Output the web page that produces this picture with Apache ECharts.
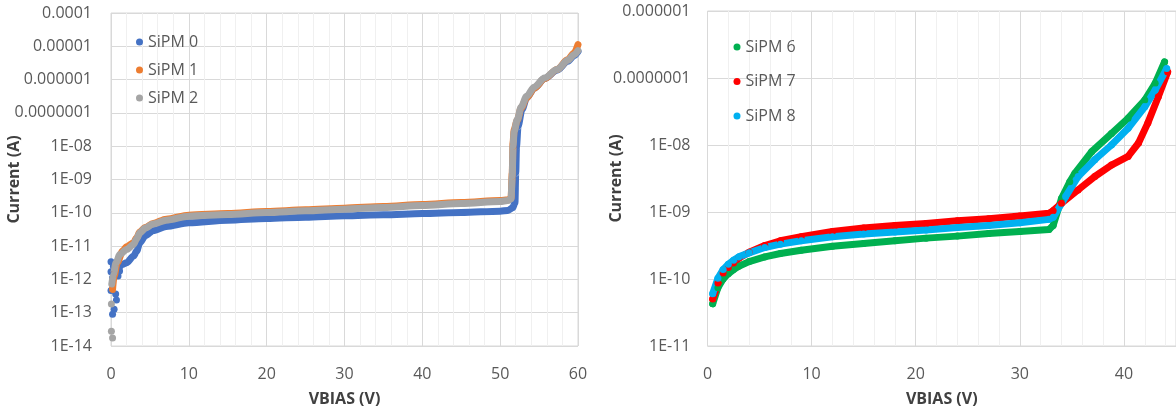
<!DOCTYPE html>
<html>
<head>
<meta charset="utf-8">
<script src="https://cdn.jsdelivr.net/npm/echarts@6/dist/echarts.min.js"></script>
<style>html,body{margin:0;padding:0;background:#fff}#c{width:1176px;height:412px}</style>
</head>
<body>
<div id="c"></div>
<script>
// ---------- tick labels ----------
const leftYLabels = ['1E-14','1E-13','1E-12','1E-11','1E-10','1E-09','1E-08','0.0000001','0.000001','0.00001','0.0001'];
const rightYLabels = ['1E-11','1E-10','1E-09','1E-08','0.0000001','0.000001'];
const leftNames = ['SiPM 0','SiPM 1','SiPM 2'];
const rightNames = ['SiPM 6','SiPM 7','SiPM 8'];

// ---------- left chart data: VBIAS (V) and log10(current in A) ----------
const sipm0V = [0.9,1.5,2.0,2.9,3.3,3.7,4.4,5.4,7.1,10,15,20,25,30,35,40,45,50,51,51.6,51.9,52.0,52.1,52.3,52.8,53.4,54.4,55.7,57.3,58.7,59.5,60];
const sipm0LogI = [-11.68,-11.55,-11.5,-11.3,-11.15,-10.9,-10.69,-10.54,-10.41,-10.3,-10.22,-10.17,-10.13,-10.09,-10.06,-10.02,-9.99,-9.95,-9.93,-9.85,-9.7,-8.8,-8.0,-7.4,-6.9,-6.55,-6.25,-5.97,-5.72,-5.45,-5.28,-5.16];
const sipm0NoiseV = [0,0,0.2,0.5,0.7,0.9,0,0.6,0.7,0.4,0.2,0.3,1.1];
const sipm0NoiseLogI = [-11.47,-11.77,-11.95,-11.65,-11.8,-11.9,-12.33,-12.44,-12.62,-12.9,-13.05,-11.6,-11.75];

const sipm1V = [0.2,0.4,0.8,1.5,2.0,2.9,3.3,3.7,4.4,5.4,7.1,10,15,20,25,30,35,40,45,50,51,51.4,51.55,51.65,51.8,52.2,52.7,53.4,54.4,55.7,57.3,58.7,59.5,60];
const sipm1LogI = [-12.3,-11.9,-11.5,-11.15,-11.02,-10.9,-10.75,-10.58,-10.44,-10.32,-10.19,-10.07,-10.02,-9.96,-9.91,-9.86,-9.81,-9.75,-9.69,-9.63,-9.61,-9.56,-8.8,-7.9,-7.5,-7.22,-6.85,-6.55,-6.25,-5.97,-5.7,-5.4,-5.2,-4.95];

const sipm2V = [0.1,0.3,0.65,1.15,2.0,2.9,3.3,3.7,4.4,5.4,7.1,10,15,20,25,30,35,40,45,50,51,51.4,51.55,51.65,51.8,52.2,52.7,53.4,54.4,55.7,57.3,58.7,59.5,60];
const sipm2LogI = [-12.14,-11.85,-11.5,-11.25,-11.1,-10.95,-10.78,-10.6,-10.46,-10.34,-10.22,-10.1,-10.05,-9.99,-9.94,-9.89,-9.84,-9.78,-9.72,-9.66,-9.63,-9.58,-8.9,-8.0,-7.55,-7.2,-6.82,-6.5,-6.22,-5.95,-5.7,-5.42,-5.25,-5.13];
const sipm2NoiseV = [0.05,0.05,0.2];
const sipm2NoiseLogI = [-12.74,-13.56,-13.76];

// ---------- right chart data ----------
const sipm6V = [0.5,1.0,1.5,2.0,2.5,3.0,4.0,5.5,7,9,12,15,18,21,24,27,30,32.8,33.2,34.0,34.8,35.3,36.9,38.8,40.4,42.0,43.0,43.9];
const sipm6LogI = [-10.37,-10.13,-10.0,-9.92,-9.86,-9.81,-9.74,-9.67,-9.62,-9.57,-9.51,-9.47,-9.43,-9.39,-9.36,-9.32,-9.29,-9.26,-9.2,-8.8,-8.55,-8.42,-8.1,-7.83,-7.6,-7.33,-7.08,-6.76];
const sipm7V = [0.5,1.0,1.5,2.0,2.5,3.0,4.0,5.5,7,9,12,15,18,21,24,27,30,32.8,33.2,34.0,35.6,37.2,38.8,40.4,41.4,42.3,43.3,44.2];
const sipm7LogI = [-10.30,-10.06,-9.91,-9.83,-9.76,-9.69,-9.6,-9.5,-9.43,-9.37,-9.29,-9.24,-9.2,-9.17,-9.13,-9.1,-9.06,-9.02,-8.98,-8.87,-8.67,-8.47,-8.3,-8.17,-7.97,-7.67,-7.28,-6.91];
const sipm8V = [0.5,1.0,1.5,2.0,2.5,3.0,4.0,5.5,7,9,12,15,18,21,24,27,30,32.8,33.2,34.4,35.6,37.2,38.8,40.4,42.0,43.0,44.1];
const sipm8LogI = [-10.22,-9.99,-9.86,-9.78,-9.72,-9.67,-9.61,-9.53,-9.48,-9.43,-9.37,-9.33,-9.3,-9.27,-9.23,-9.2,-9.16,-9.11,-9.08,-8.77,-8.47,-8.22,-8.0,-7.75,-7.43,-7.18,-6.86];

// ---------- build ----------
function pts(v, l) { return v.map((x, i) => [x, Math.pow(10, l[i])]); }
const FONT = 'Open Sans';
const labelColor = '#595959';
const major = '#d9d9d9', minor = '#f0f0f0';
const gridColors = [major, minor, minor, minor, minor];

function xAxis(gridIndex, max, showMax) {
  return {
    type: 'value', gridIndex, min: 0, max, interval: 2,
    name: 'VBIAS (V)', nameLocation: 'middle', nameGap: 45, nameMoveOverlap: false,
    nameTextStyle: { fontFamily: FONT, fontSize: 16, fontWeight: 'bold', color: '#404040' },
    axisLine: { show: false }, axisTick: { show: false },
    axisLabel: { fontFamily: FONT, fontSize: 16, color: labelColor, margin: 20,
      showMaxLabel: showMax, hideOverlap: false,
      formatter: v => (Math.abs(v % 10) < 1e-9 ? String(v) : '') },
    splitLine: { show: true, lineStyle: { color: gridColors, width: 1 } }
  };
}
function yAxis(gridIndex, min, max, splitNumber, labels, minExp, nameGap, margin) {
  return {
    type: 'log', logBase: 10, gridIndex, min, max, splitNumber, interval: 1,
    name: 'Current (A)', nameLocation: 'middle', nameGap, nameRotate: 90, nameMoveOverlap: false,
    nameTextStyle: { fontFamily: FONT, fontSize: 16, fontWeight: 'bold', color: '#404040' },
    axisLine: { show: false }, axisTick: { show: false },
    axisLabel: { fontFamily: FONT, fontSize: 16, color: labelColor, margin, hideOverlap: false,
      formatter: v => { const e = Math.round(Math.log10(v)); return labels[e - minExp] || ''; } },
    splitLine: { show: true, lineStyle: { color: major, width: 1 } }
  };
}
function bandLine(name, data, color, width) {
  return { type: 'line', name, xAxisIndex: 0, yAxisIndex: 0, data, showSymbol: false,
    smooth: 0.3, smoothMonotone: 'x',
    lineStyle: { color, width, cap: 'round', join: 'round' }, itemStyle: { color },
    animation: false, silent: true };
}
function dotLine(name, data, color) {
  return { type: 'line', name, xAxisIndex: 1, yAxisIndex: 1, data, showSymbol: true,
    symbol: 'circle', symbolSize: 7, clip: false, smooth: false,
    lineStyle: { color, width: 7, cap: 'round', join: 'round' }, itemStyle: { color },
    animation: false, silent: true };
}
function dots(name, data, color) {
  return { type: 'scatter', name, xAxisIndex: 0, yAxisIndex: 0, data, symbolSize: 7, clip: false,
    itemStyle: { color, opacity: 1 }, animation: false, silent: true };
}

const cBlue = '#4472C4', cOrange = '#ED7D31', cGray = '#A5A5A5';
const cGreen = '#00B050', cRed = '#FF0000', cSky = '#00B0F0';

const option = {
  backgroundColor: '#fff',
  animation: false,
  grid: [
    { left: 111, right: 598, top: 13, bottom: 63, show: true, borderColor: major, borderWidth: 1, containLabel: false },
    { left: 707.5, right: -2, top: 11, bottom: 66, show: true, borderColor: major, borderWidth: 1, containLabel: false }
  ],
  xAxis: [xAxis(0, 60, true), xAxis(1, 45, false)],
  yAxis: [
    yAxis(0, 1e-14, 1e-4, 10, leftYLabels, -14, 89, 19),
    yAxis(1, 1e-11, 1e-6, 5, rightYLabels, -11, 83, 17)
  ],
  legend: [
    { data: leftNames, left: 136, top: 32, orient: 'vertical', icon: 'circle', itemWidth: 7, itemHeight: 7,
      itemGap: 8, padding: 0, textStyle: { fontFamily: FONT, fontSize: 16, color: labelColor, lineHeight: 20 } },
    { data: rightNames, left: 733.5, top: 37, orient: 'vertical', icon: 'circle', itemWidth: 7, itemHeight: 7,
      itemGap: 14.5, padding: 0, textStyle: { fontFamily: FONT, fontSize: 16, color: labelColor, lineHeight: 20 } }
  ],
  series: [
    bandLine(leftNames[0], pts(sipm0V, sipm0LogI), cBlue, 7),
    dots(leftNames[0], pts(sipm0NoiseV, sipm0NoiseLogI), cBlue),
    bandLine(leftNames[1], pts(sipm1V, sipm1LogI), cOrange, 7),
    bandLine(leftNames[2], pts(sipm2V, sipm2LogI), cGray, 7),
    dots(leftNames[2], pts(sipm2NoiseV, sipm2NoiseLogI), cGray),
    dotLine(rightNames[0], pts(sipm6V, sipm6LogI), cGreen),
    dotLine(rightNames[1], pts(sipm7V, sipm7LogI), cRed),
    dotLine(rightNames[2], pts(sipm8V, sipm8LogI), cSky)
  ]
};
const chart = echarts.init(document.getElementById('c'), null, { renderer: 'canvas' });
chart.setOption(option);
</script>
</body>
</html>
